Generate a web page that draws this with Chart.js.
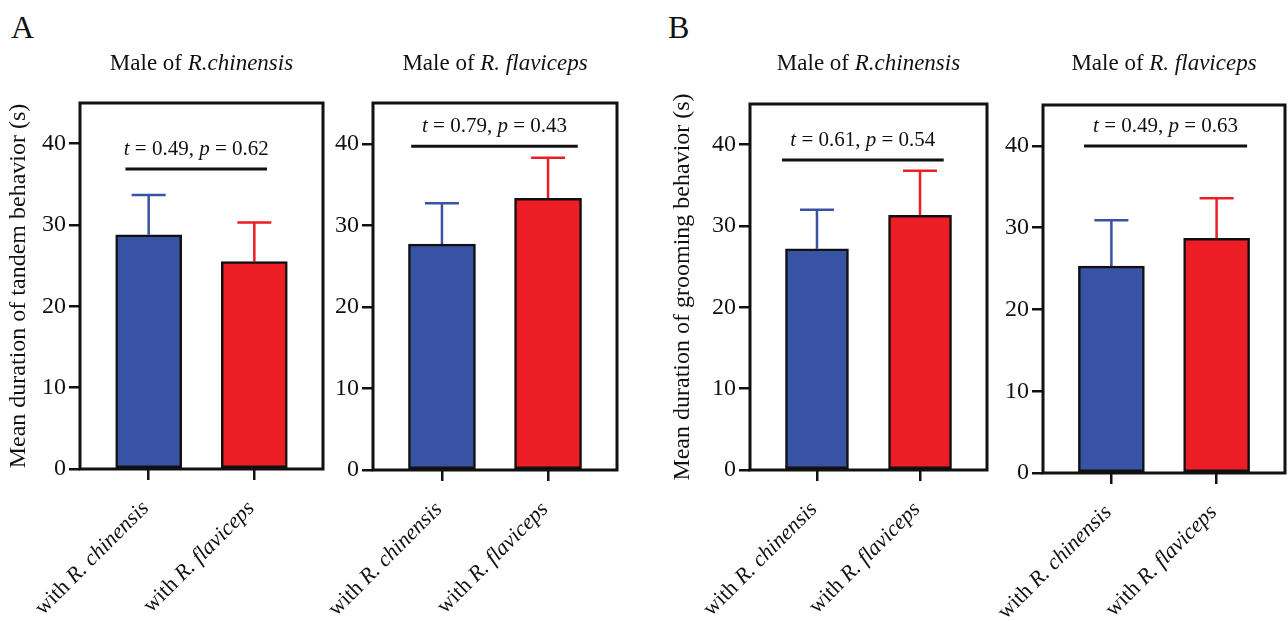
<!DOCTYPE html>
<html>
<head>
<meta charset="utf-8">
<script src="https://cdn.jsdelivr.net/npm/chart.js@4.4.0/dist/chart.umd.min.js"></script>
<style>
  body { margin:0; background:#fff; width:1288px; height:621px; overflow:hidden; position:relative; font-family:'Liberation Serif', serif; }
  .panel { position:absolute; top:0; height:621px; }
  .tag { position:absolute; font-size:32px; color:#111; line-height:1; }
</style>
</head>
<body>
<div class="tag" style="left:11px;top:11px">A</div>
<div class="tag" style="left:668px;top:11px">B</div>
<div class="panel" style="left:0;width:335px"><canvas id="c0"></canvas></div>
<div class="panel" style="left:315px;width:315px"><canvas id="c1"></canvas></div>
<div class="panel" style="left:640px;width:360px"><canvas id="c2"></canvas></div>
<div class="panel" style="left:980px;width:308px"><canvas id="c3"></canvas></div>
<script>
// --- data ---
const categoryPrefix = 'with ';
const categorySpecies = ['R. chinensis', 'R. flaviceps'];
const panelSpecies = ['R.chinensis', 'R. flaviceps', 'R.chinensis', 'R. flaviceps'];
const yTitles = ['Mean duration of tandem behavior (s)', '', 'Mean duration of grooming behavior (s)', ''];
const meanChinensis = [28.8, 27.7, 27.2, 25.3];
const meanFlaviceps = [25.5, 33.3, 31.3, 28.7];
const errChinensis = [4.9, 5.0, 4.8, 5.6];
const errFlaviceps = [4.8, 5.0, 5.5, 4.9];
const tValues = ['0.49', '0.79', '0.61', '0.49'];
const pValues = ['0.62', '0.43', '0.54', '0.63'];
const sigLineY = [36.9, 39.7, 38.1, 40.0];
const sigFrom = [-0.22, -0.29, -0.34, -0.26];
const sigTo = [1.12, 1.28, 1.23, 1.29];
const yTickValues = [0, 10, 20, 30, 40];

const BLUE = '#3953a4';
const RED = '#ec1d25';
const FONT = '"Liberation Serif", "Times New Roman", serif';

// canvas layout per panel
const layouts = [
  { padLeft: 0,  axisW: 80, padRight: 12, top: 103, bottom: 469, barW: 66 },
  { padLeft: 20, axisW: 38, padRight: 13, top: 103, bottom: 470, barW: 67 },
  { padLeft: 24, axisW: 86, padRight: 13, top: 104, bottom: 470, barW: 63 },
  { padLeft: 20, axisW: 43, padRight: 3,  top: 105, bottom: 473, barW: 66 }
];

Chart.defaults.color = '#111';
Chart.defaults.font.family = FONT;

function fontOf(seg, size) {
  return (seg.i ? 'italic ' : '') + size + 'px ' + FONT;
}
function drawRich(ctx, segs, x, y, size, align) {
  let w = 0;
  segs.forEach(s => { ctx.font = fontOf(s, size); w += ctx.measureText(s.t).width; });
  let cx = align === 'center' ? x - w / 2 : align === 'right' ? x - w : x;
  ctx.textAlign = 'left';
  segs.forEach(s => {
    ctx.font = fontOf(s, size);
    ctx.fillText(s.t, cx, y);
    cx += ctx.measureText(s.t).width;
  });
}

const deco = {
  id: 'deco',
  beforeDatasetsDraw(chart, args, opts) {
    const i = opts.idx;
    const ctx = chart.ctx;
    const ys = chart.scales.y;
    const meta = chart.getDatasetMeta(0);
    const means = [meanChinensis[i], meanFlaviceps[i]];
    const errs = [errChinensis[i], errFlaviceps[i]];
    const cols = [BLUE, RED];
    ctx.save();
    meta.data.forEach((bar, k) => {
      const yTop = ys.getPixelForValue(means[k] + errs[k]);
      ctx.strokeStyle = cols[k];
      ctx.lineWidth = 2.5;
      ctx.beginPath();
      ctx.moveTo(bar.x, bar.y);
      ctx.lineTo(bar.x, yTop);
      ctx.moveTo(bar.x - 17, yTop);
      ctx.lineTo(bar.x + 17, yTop);
      ctx.stroke();
    });
    ctx.restore();
  },
  afterDraw(chart, args, opts) {
    const i = opts.idx;
    const ctx = chart.ctx;
    const a = chart.chartArea;
    const xs = chart.scales.x, ys = chart.scales.y;
    ctx.save();
    // frame
    ctx.strokeStyle = '#111';
    ctx.lineWidth = 3;
    ctx.strokeRect(a.left, a.top, a.right - a.left, a.bottom - a.top);
    // significance line
    const ly = ys.getPixelForValue(sigLineY[i]);
    const x0 = xs.getPixelForValue(sigFrom[i]), x1 = xs.getPixelForValue(sigTo[i]);
    ctx.lineWidth = 3;
    ctx.beginPath();
    ctx.moveTo(x0, ly);
    ctx.lineTo(x1, ly);
    ctx.stroke();
    ctx.fillStyle = '#111';
    ctx.textBaseline = 'alphabetic';
    drawRich(ctx, [{ t: 't', i: true }, { t: ' = ' + tValues[i] + ', ' }, { t: 'p', i: true }, { t: ' = ' + pValues[i] }],
      (x0 + x1) / 2, ly - 14, 21, 'center');
    // panel title
    drawRich(ctx, [{ t: 'Male of ' }, { t: panelSpecies[i], i: true }], (a.left + a.right) / 2, 70, 23, 'center');
    // rotated category labels
    ctx.textBaseline = 'middle';
    categorySpecies.forEach((sp, k) => {
      const x = xs.getPixelForValue(k);
      ctx.save();
      ctx.translate(x - 3, a.bottom + 36);
      ctx.rotate(-Math.PI / 4);
      drawRich(ctx, [{ t: categoryPrefix }, { t: sp, i: true }], 0, 0, 22, 'right');
      ctx.restore();
    });
    ctx.restore();
  }
};

layouts.forEach((L, i) => {
  new Chart(document.getElementById('c' + i), {
    type: 'bar',
    data: {
      datasets: [{
        data: [{ x: 0, y: meanChinensis[i] }, { x: 1, y: meanFlaviceps[i] }],
        backgroundColor: [BLUE, RED],
        borderColor: '#111',
        borderWidth: 2.5,
        borderSkipped: false,
        barThickness: L.barW
      }]
    },
    options: {
      responsive: true,
      maintainAspectRatio: false,
      animation: false,
      layout: { padding: { left: L.padLeft, right: L.padRight, top: L.top, bottom: 0 } },
      plugins: { legend: { display: false }, tooltip: { enabled: false }, deco: { idx: i } },
      scales: {
        x: {
          type: 'linear',
          offset: false,
          min: -0.65,
          max: 1.65,
          afterBuildTicks: s => { s.ticks = [{ value: 0 }, { value: 1 }]; },
          afterFit: s => { s.height = 621 - L.bottom; },
          ticks: { display: false },
          grid: { offset: false, drawOnChartArea: false, drawTicks: true, tickLength: 11, lineWidth: 2.5, color: '#111' },
          border: { display: false }
        },
        y: {
          min: 0,
          max: 45,
          afterBuildTicks: s => { s.ticks = yTickValues.map(v => ({ value: v })); },
          afterFit: s => { s.width = L.axisW; },
          ticks: { font: { size: 24, family: FONT }, color: '#111', padding: 3 },
          grid: { drawOnChartArea: false, drawTicks: true, tickLength: 11, lineWidth: 2.5, color: '#111' },
          border: { display: false },
          title: {
            display: yTitles[i] !== '',
            text: yTitles[i],
            font: { size: 24, family: FONT },
            color: '#111',
            padding: { top: 4, bottom: 0 }
          }
        }
      }
    },
    plugins: [deco]
  });
});
</script>
</body>
</html>
